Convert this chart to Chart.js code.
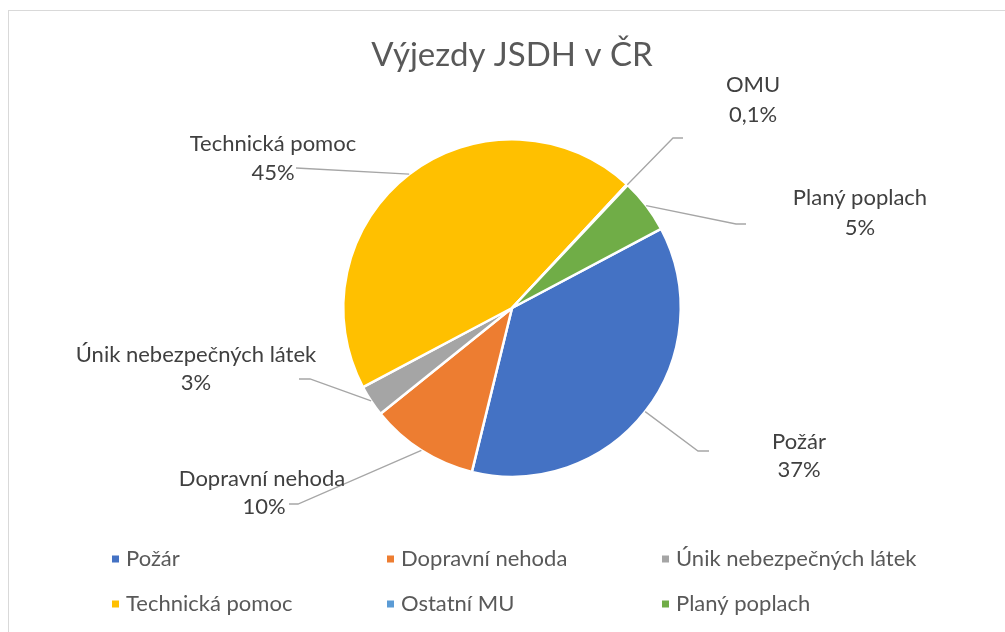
<!DOCTYPE html>
<html>
<head>
<meta charset="utf-8">
<script src="https://cdn.jsdelivr.net/npm/chart.js@4"></script>
<style>
  body { margin: 0; background: #fff; }
  #wrap { width: 1005px; height: 632px; }
</style>
</head>
<body>
<div id="wrap"><canvas id="pie_chart" width="1005" height="632"></canvas></div>
<script>
const categories = ["Požár", "Dopravní nehoda", "Únik nebezpečných látek", "Technická pomoc", "Ostatní MU", "Planý poplach"];
const slice_labels = ["Požár", "Dopravní nehoda", "Únik nebezpečných látek", "Technická pomoc", "OMU", "Planý poplach"];
const shares = [36.6, 10.4, 3.0, 44.7, 0.1, 5.2];
const colors = ["#4472C4", "#ED7D31", "#A5A5A5", "#FFC000", "#5B9BD5", "#70AD47"];

const title_text = "Výjezdy JSDH v ČR";
const FONT = "Lato, 'Open Sans', sans-serif";

// where each outside label sits, plus the bend of its leader line
const label_pos = [
  { x: 799, y: 442, px: 799, py: 470, bend: [698, 451], tail: [709, 451] },
  { x: 262, y: 479, px: 264, py: 507, bend: [298, 504], tail: [289, 504] },
  { x: 196, y: 355, px: 196, py: 383, bend: [310, 379], tail: [299, 379] },
  { x: 273, y: 144, px: 273, py: 173, bend: [296, 168], tail: [296, 168] },
  { x: 753, y: 85,  px: 753, py: 115, bend: [673, 138], tail: [683, 138] },
  { x: 860, y: 198, px: 860, py: 228, bend: [736, 224], tail: [746, 224] }
];

function pct(v){
    let total = shares.reduce((a, b) => a + b, 0);
    let p = v / total * 100;
    if (p < 1) return p.toFixed(1).replace(".", ",") + "%";
    return Math.round(p) + "%";
}

const decorPlugin = {
    id: "decor",
    afterDraw(chart){
        const c = chart.ctx;
        c.save();

        // outer frame
        c.strokeStyle = "#D9D9D9";
        c.lineWidth = 1;
        c.strokeRect(8.5, 10.5, 1100, 700);

        // title
        c.fillStyle = "#595959";
        c.font = "33px " + FONT;
        c.textAlign = "center";
        c.textBaseline = "middle";
        c.fillText(title_text, 512, 55);

        // leader lines
        const meta = chart.getDatasetMeta(0);
        c.strokeStyle = "#A6A6A6";
        c.lineWidth = 1.3;
        meta.data.forEach((arc, i) => {
            const mid = (arc.startAngle + arc.endAngle) / 2;
            const r = arc.outerRadius;
            const lp = label_pos[i];
            c.beginPath();
            c.moveTo(arc.x + Math.cos(mid) * r, arc.y + Math.sin(mid) * r);
            c.lineTo(lp.bend[0], lp.bend[1]);
            c.lineTo(lp.tail[0], lp.tail[1]);
            c.stroke();
        });

        // data labels
        c.fillStyle = "#404040";
        c.font = "22px " + FONT;
        slice_labels.forEach((name, i) => {
            const lp = label_pos[i];
            c.fillText(name, lp.x, lp.y);
            c.fillText(pct(shares[i]), lp.px, lp.py);
        });

        // legend, 3 columns
        const colX = [112, 387, 662];
        const rowY = [559, 604];
        c.font = "22px " + FONT;
        c.textAlign = "left";
        categories.forEach((name, i) => {
            const x = colX[i % 3];
            const y = rowY[Math.floor(i / 3)];
            c.fillStyle = colors[i];
            c.fillRect(x, y - 3.5, 7, 7);
            c.fillStyle = "#595959";
            c.fillText(name, x + 14, y);
        });

        c.restore();
    }
};

const ctx = document.getElementById("pie_chart").getContext("2d");

new Chart(ctx, {
    type: "pie",
    data: {
        labels: categories,
        datasets: [{
            data: shares,
            backgroundColor: colors,
            borderColor: "#ffffff",
            borderWidth: 2.5
        }]
    },
    options: {
        responsive: false,
        animation: false,
        rotation: 62,
        layout: { padding: { top: 138, bottom: 154, left: 19, right: 0 } },
        plugins: {
            legend: { display: false },
            tooltip: { enabled: false }
        }
    },
    plugins: [decorPlugin]
});
</script>
</body>
</html>
